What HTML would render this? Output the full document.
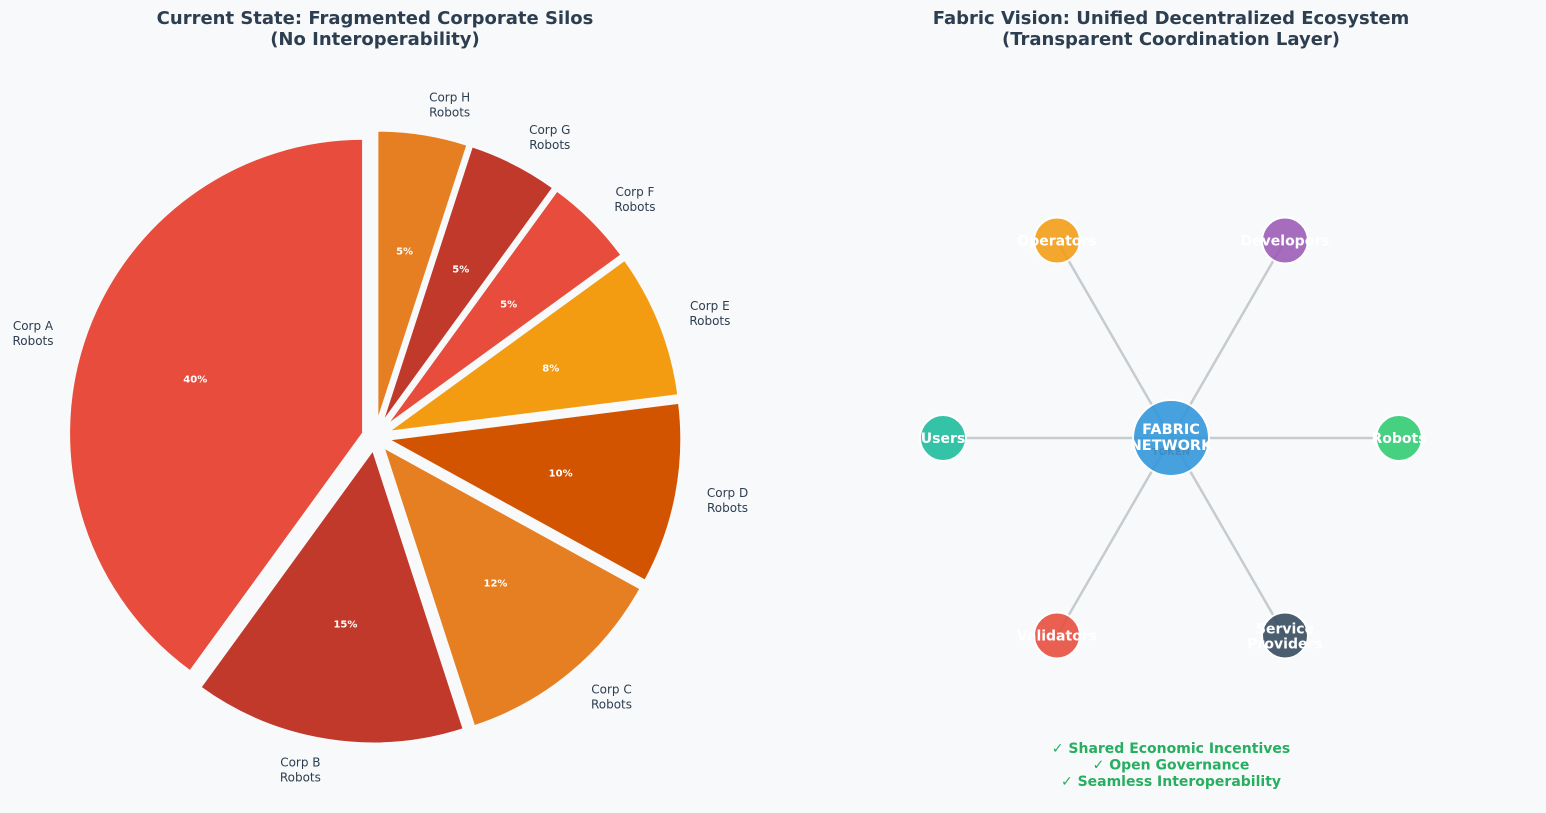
<!DOCTYPE html>
<html><head><meta charset="utf-8"><style>
html,body{margin:0;padding:0;background:#f8f9fa;}
svg{display:block;font-family:"DejaVu Sans","Liberation Sans",sans-serif;}
</style></head><body>
<svg id="c" width="1546" height="813" viewBox="0 0 1546 813">
<rect width="1546" height="813" fill="#f8f9fa"/>
<text x="375" y="24" text-anchor="middle" font-size="18" font-weight="bold" fill="#2c3e50"><tspan x="375">Current State: Fragmented Corporate Silos</tspan><tspan x="375" dy="21">(No Interoperability)</tspan></text>
<text x="1171" y="24" text-anchor="middle" font-size="18" font-weight="bold" fill="#2c3e50"><tspan x="1171">Fabric Vision: Unified Decentralized Ecosystem</tspan><tspan x="1171" dy="21">(Transparent Coordination Layer)</tspan></text>
<g id="pie"></g>
<g id="net"></g>
<text x="1171" y="753" text-anchor="middle" font-size="14" font-weight="bold" fill="#27ae60"><tspan x="1171">✓ Shared Economic Incentives</tspan><tspan x="1171" dy="16.5">✓ Open Governance</tspan><tspan x="1171" dy="16.5">✓ Seamless Interoperability</tspan></text>
</svg>
<script>
const categories=["Corp A","Corp B","Corp C","Corp D","Corp E","Corp F","Corp G","Corp H"];
const shares=[40,15,12,10,8,5,5,5];
const sliceColors=["#e74c3c","#c0392b","#e67e22","#d35400","#f39c12","#e74c3c","#c0392b","#e67e22"];
const nodeNames=[["Robots"],["Developers"],["Operators"],["Users"],["Validators"],["Service","Providers"]];
const nodeColors=["#2ecc71","#9b59b6","#f39c12","#1abc9c","#e74c3c","#34495e"];
const NS="http://www.w3.org/2000/svg";
function mk(t,a,p){const e=document.createElementNS(NS,t);for(const k in a)e.setAttribute(k,a[k]);p.appendChild(e);return e;}
const pie=document.getElementById('pie');
const cx=375,cy=437,R=295,EX=12;
const total=shares.reduce((a,b)=>a+b,0);
let ang=90;
shares.forEach((v,i)=>{
  const sweep=v/total*360,a0=ang,a1=ang+sweep,mid=(a0+a1)/2;ang=a1;
  const r=d=>d*Math.PI/180;
  const ox=cx+EX*Math.cos(r(mid)),oy=cy-EX*Math.sin(r(mid));
  const x0=ox+R*Math.cos(r(a0)),y0=oy-R*Math.sin(r(a0)),x1=ox+R*Math.cos(r(a1)),y1=oy-R*Math.sin(r(a1));
  const p=mk('path',{d:`M${ox},${oy}L${x0},${y0}A${R},${R} 0 ${sweep>180?1:0} 0 ${x1},${y1}Z`,fill:sliceColors[i],stroke:'#f8f9fa','stroke-width':3},pie);
  
  
  const px=ox+0.6*R*Math.cos(r(mid)),py=oy-0.6*R*Math.sin(r(mid));
  const t=mk('text',{x:px,y:py+4,'text-anchor':'middle','font-size':10,'font-weight':'bold',fill:'#fff'},pie);
  t.textContent=v+'%';
  
  
  const lx=ox+1.1*R*Math.cos(r(mid)),ly=oy-1.1*R*Math.sin(r(mid));
  const c=Math.cos(r(mid));
  const anc=c>0.001?'start':(c<-0.001?'end':'middle');
  const l=mk('text',{x:lx,y:ly-3,'text-anchor':'middle','font-size':12,fill:'#2c3e50'},pie);
  
  
  const w=44;const tx=anc==='start'?lx+w/2:(anc==='end'?lx-w/2:lx);
  [categories[i],'Robots'].forEach((s,k)=>{const ts=mk('tspan',{x:tx,dy:k?15:0},l);ts.textContent=s;});
});
const net=document.getElementById('net');
const nx=1171,ny=438,NR=228;
nodeNames.forEach((n,i)=>{const a=i*60*Math.PI/180;
  const ln=mk('line',{x1:nx,y1:ny,x2:nx+NR*Math.cos(a),y2:ny-NR*Math.sin(a),stroke:'#bdc3c7','stroke-width':2.5,opacity:0.85},net);
  
  });
const cc=mk('circle',{cx:nx,cy:ny,r:38,fill:'#3498db',opacity:0.9,stroke:'#fff','stroke-width':2},net);


const tk=mk('text',{x:nx,y:ny+17,'text-anchor':'middle','font-size':10,'font-weight':'bold',fill:'#2c3e50',opacity:0.2},net);
tk.textContent='TOKEN';


const ct=mk('text',{x:nx,y:ny-4,'text-anchor':'middle','font-size':14.5,'font-weight':'bold',fill:'#fff'},net);


['FABRIC','NETWORK'].forEach((s,k)=>{const ts=mk('tspan',{x:nx,dy:k?16:0},ct);ts.textContent=s;});
nodeNames.forEach((n,i)=>{const a=i*60*Math.PI/180;const x=nx+NR*Math.cos(a),y=ny-NR*Math.sin(a);
  const c=mk('circle',{cx:x,cy:y,r:23,fill:nodeColors[i],opacity:0.88,stroke:'#fff','stroke-width':2},net);
  
  
  const t=mk('text',{x:x,y:y+5-(n.length-1)*7,'text-anchor':'middle','font-size':14,'font-weight':'bold',fill:'#fff'},net);
  
  
  n.forEach((s,k)=>{const ts=mk('tspan',{x:x,dy:k?15:0},t);ts.textContent=s;});
});
</script>
</body></html>
